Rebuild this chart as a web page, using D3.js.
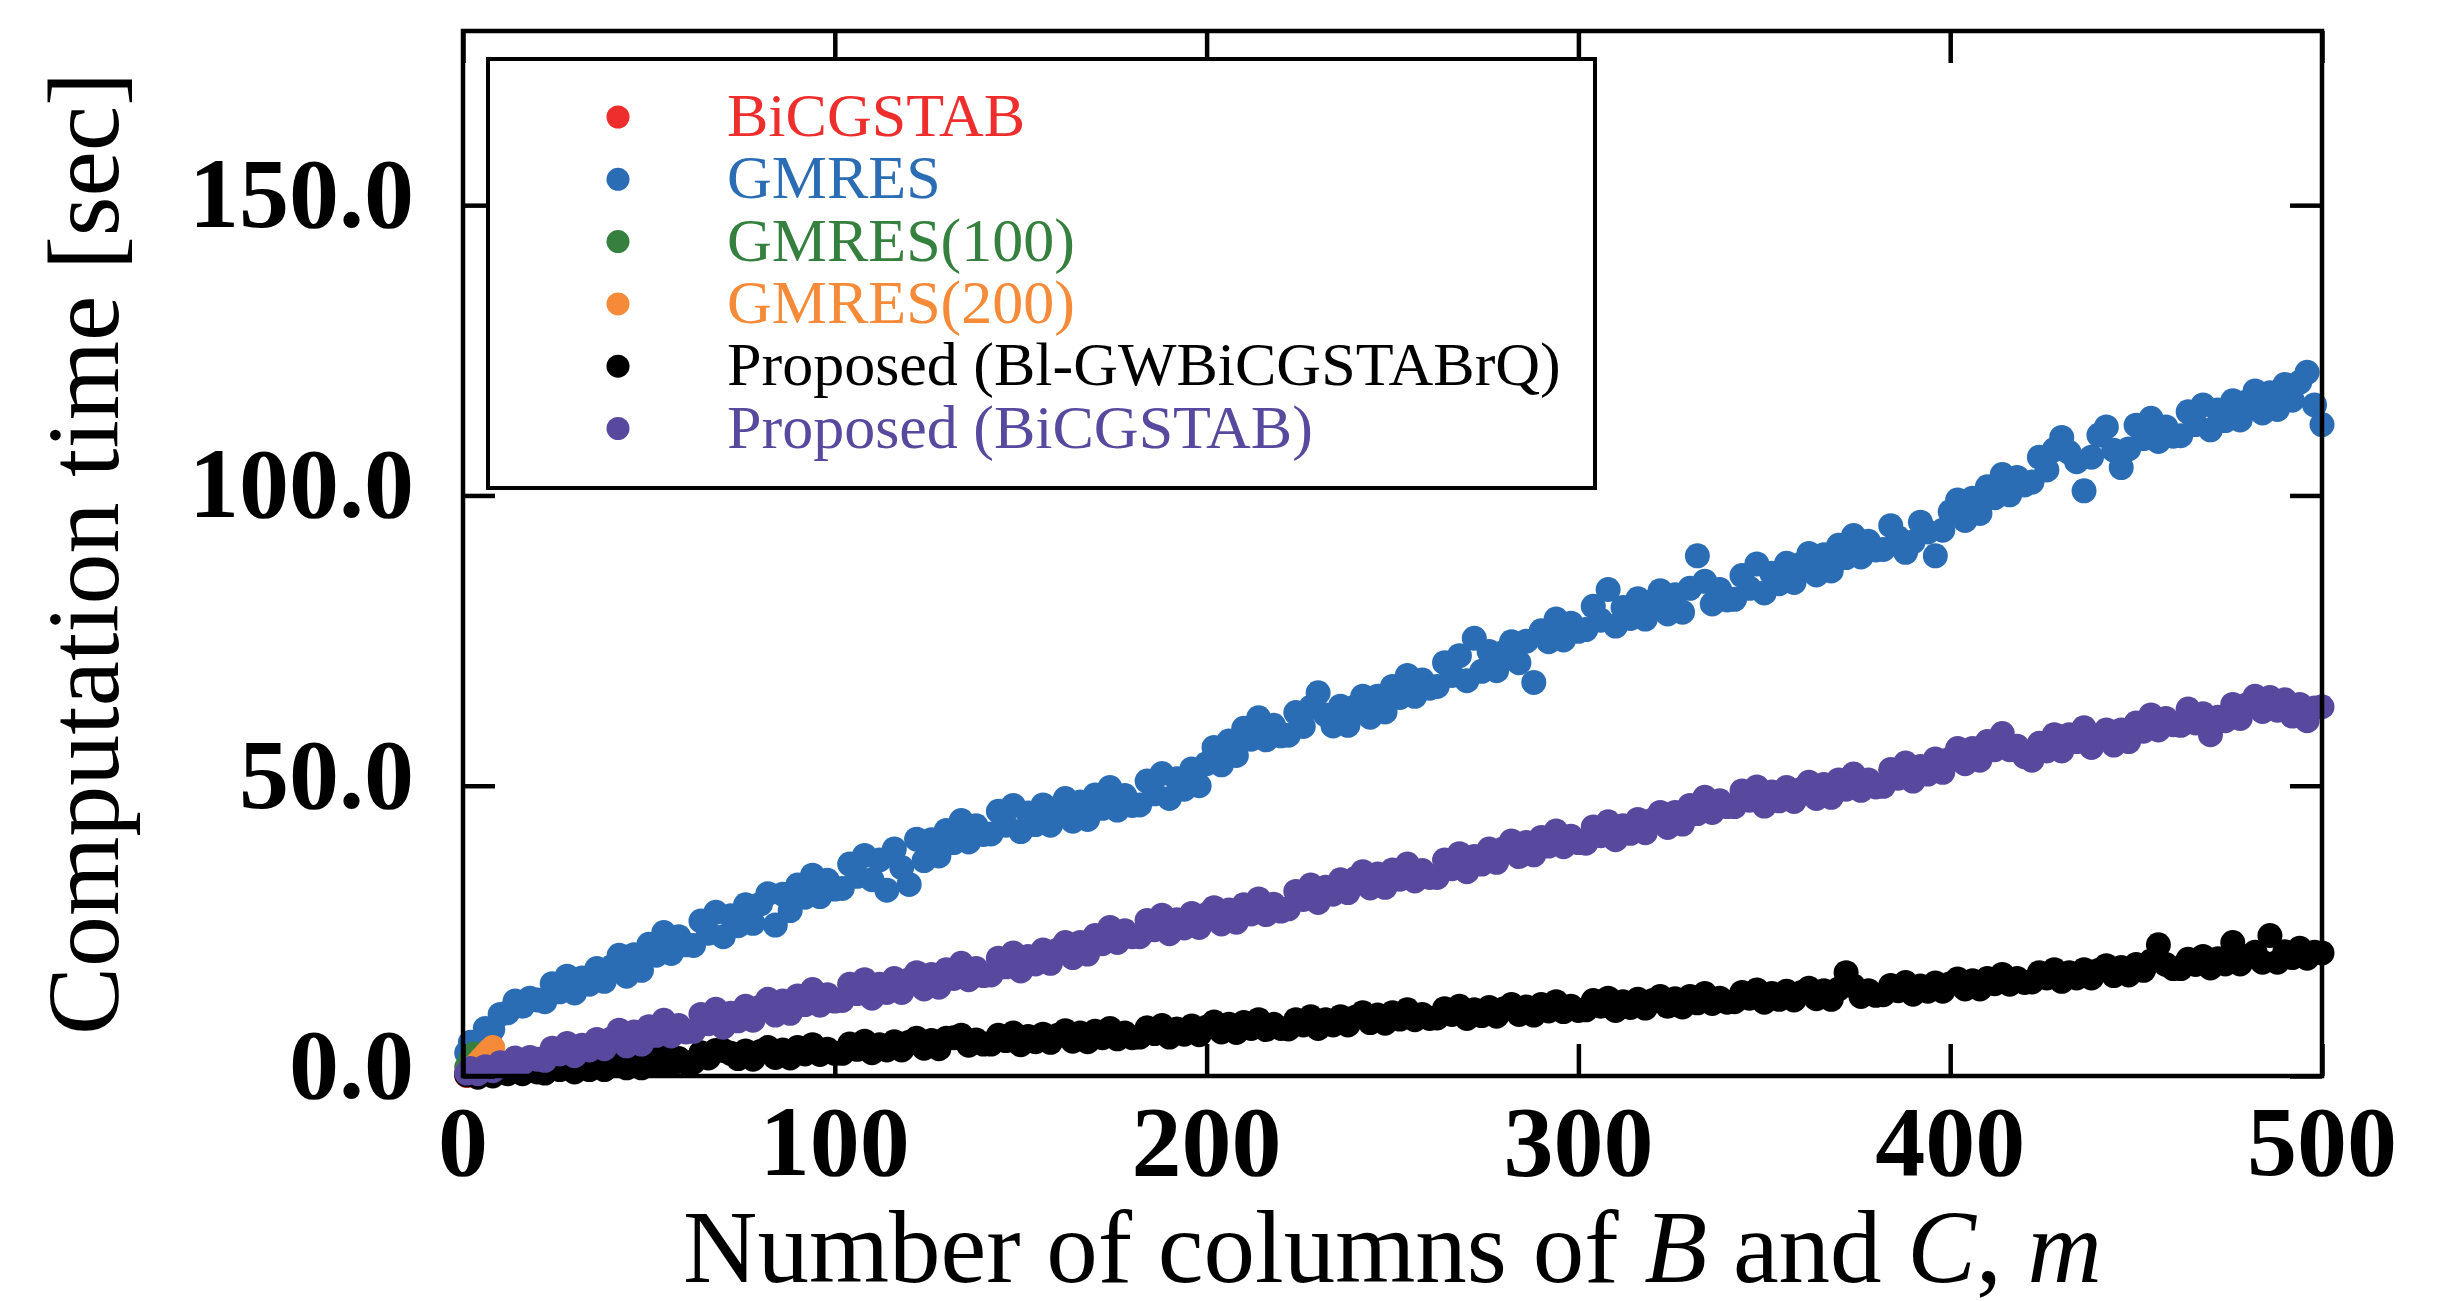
<!DOCTYPE html>
<html>
  <head>
    <meta charset="utf-8">
    <title>Computation time vs number of columns</title>
    <script src="https://cdn.jsdelivr.net/npm/d3@7"></script>
    <style>
      body { margin: 0; background: #fff; }
      svg { display: block; font-family: "Liberation Serif", "Times New Roman", serif; }
    </style>
  </head>
  <body>
    <svg id="chart" width="2452" height="1301"></svg>
    <script>
      // data (m = number of columns, values in seconds)
      mValues = [1,
        2, 4, 6, 8, 10, 12, 14, 16, 18, 20,
        22, 24, 26, 28, 30, 32, 34, 36, 38, 40,
        42, 44, 46, 48, 50, 52, 54, 56, 58, 60,
        62, 64, 66, 68, 70, 72, 74, 76, 78, 80,
        82, 84, 86, 88, 90, 92, 94, 96, 98, 100,
        102, 104, 106, 108, 110, 112, 114, 116, 118, 120,
        122, 124, 126, 128, 130, 132, 134, 136, 138, 140,
        142, 144, 146, 148, 150, 152, 154, 156, 158, 160,
        162, 164, 166, 168, 170, 172, 174, 176, 178, 180,
        182, 184, 186, 188, 190, 192, 194, 196, 198, 200,
        202, 204, 206, 208, 210, 212, 214, 216, 218, 220,
        222, 224, 226, 228, 230, 232, 234, 236, 238, 240,
        242, 244, 246, 248, 250, 252, 254, 256, 258, 260,
        262, 264, 266, 268, 270, 272, 274, 276, 278, 280,
        282, 284, 286, 288, 290, 292, 294, 296, 298, 300,
        302, 304, 306, 308, 310, 312, 314, 316, 318, 320,
        322, 324, 326, 328, 330, 332, 334, 336, 338, 340,
        342, 344, 346, 348, 350, 352, 354, 356, 358, 360,
        362, 364, 366, 368, 370, 372, 374, 376, 378, 380,
        382, 384, 386, 388, 390, 392, 394, 396, 398, 400,
        402, 404, 406, 408, 410, 412, 414, 416, 418, 420,
        422, 424, 426, 428, 430, 432, 434, 436, 438, 440,
        442, 444, 446, 448, 450, 452, 454, 456, 458, 460,
        462, 464, 466, 468, 470, 472, 474, 476, 478, 480,
        482, 484, 486, 488, 490, 492, 494, 496, 498, 500];
      gmresTimes = [4.0,
        5.8, 5.7, 8.2, 8.0, 10.6, 10.9, 12.9, 12.0, 13.4, 13.1,
        12.8, 15.9, 14.5, 17.2, 14.3, 16.9, 15.8, 18.5, 16.3, 18.8,
        20.8, 17.2, 20.9, 18.2, 22.7, 20.8, 24.7, 21.1, 24.0, 22.6,
        22.5, 26.7, 24.6, 28.2, 24.0, 27.6, 25.9, 29.5, 26.3, 29.6,
        31.4, 26.0, 31.3, 28.5, 32.9, 30.8, 34.6, 30.9, 33.7, 32.2,
        32.3, 36.5, 34.4, 38.0, 33.8, 37.2, 32.0, 39.1, 35.9, 33.0,
        40.8, 37.1, 40.7, 37.9, 42.3, 40.2, 44.0, 40.3, 43.1, 41.6,
        41.7, 45.6, 43.2, 46.6, 42.1, 45.3, 43.3, 46.7, 43.2, 46.2,
        47.8, 43.9, 47.2, 44.2, 48.4, 46.1, 49.7, 45.8, 48.3, 46.6,
        46.7, 50.8, 48.6, 52.1, 47.8, 51.2, 49.4, 52.9, 50.0, 53.8,
        56.6, 53.6, 57.7, 55.2, 59.9, 58.0, 61.7, 57.9, 60.4, 58.6,
        58.7, 62.6, 60.2, 63.5, 66.0, 62.2, 60.3, 63.7, 60.4, 63.6,
        65.4, 61.8, 65.4, 62.7, 67.1, 65.2, 69.0, 65.4, 68.2, 66.8,
        67.1, 71.2, 69.0, 72.4, 68.1, 75.4, 69.7, 73.1, 69.8, 73.0,
        74.8, 71.2, 74.9, 67.8, 76.7, 74.8, 78.7, 75.1, 78.0, 76.6,
        76.9, 80.9, 78.5, 83.8, 77.5, 80.7, 78.8, 82.2, 78.7, 81.8,
        83.6, 79.6, 82.9, 79.9, 84.0, 89.6, 85.2, 81.3, 83.8, 82.0,
        82.1, 86.2, 84.0, 88.2, 83.2, 86.6, 84.8, 88.3, 85.0, 88.2,
        90.0, 86.3, 89.8, 87.0, 91.4, 89.3, 93.1, 89.4, 92.1, 90.6,
        90.7, 94.8, 92.7, 90.2, 92.0, 95.4, 93.7, 89.6, 94.0, 97.2,
        99.2, 95.7, 99.5, 96.9, 101.5, 99.6, 103.6, 100.1, 103.1, 101.8,
        102.3, 106.6, 104.4, 107.9, 110.0, 107.4, 105.8, 100.8, 106.6, 110.4,
        111.8, 107.8, 104.8, 108.0, 112.1, 109.8, 113.3, 109.3, 111.8, 110.2,
        110.3, 114.4, 112.2, 115.6, 111.3, 114.7, 112.9, 116.3, 113.0, 116.2,
        118.0, 114.2, 117.7, 114.8, 119.1, 116.4, 119.5, 121.2, 115.6, 112.2];
      proposedBlTimes = [0.2,
        0.5, -0.2, 0.5, 0.0, 0.8, 0.4, 1.1, 0.4, 1.0, 0.7,
        0.5, 1.9, 1.1, 2.3, 0.7, 1.8, 1.1, 2.3, 1.1, 2.2,
        3.1, 1.4, 2.8, 1.4, 3.2, 2.1, 3.7, 2.0, 3.0, 2.3,
        2.4, 4.0, 3.1, 4.4, 4.4, 3.9, 3.0, 4.3, 2.9, 4.2,
        4.9, 3.2, 4.5, 3.1, 4.9, 3.8, 5.4, 3.7, 4.6, 3.9,
        3.9, 5.5, 4.6, 6.0, 4.0, 5.4, 4.5, 5.9, 4.5, 5.8,
        6.5, 4.8, 6.1, 4.7, 6.5, 6.6, 7.0, 5.3, 6.2, 5.5,
        5.5, 7.0, 6.1, 7.4, 5.4, 6.8, 5.9, 7.2, 5.8, 7.0,
        7.8, 6.0, 7.4, 5.9, 7.7, 6.6, 8.2, 6.4, 7.4, 6.6,
        6.7, 8.3, 7.3, 8.7, 6.7, 8.1, 7.2, 8.6, 7.1, 8.4,
        9.3, 7.6, 8.9, 7.5, 9.2, 8.2, 9.7, 8.0, 8.9, 8.2,
        8.1, 9.7, 8.8, 10.2, 8.2, 9.7, 8.8, 10.2, 8.8, 10.1,
        10.9, 9.2, 10.5, 9.1, 10.9, 9.8, 11.4, 9.7, 10.6, 9.9,
        10.0, 11.6, 10.6, 12.0, 9.9, 11.4, 10.4, 11.8, 10.3, 11.6,
        12.3, 10.6, 11.9, 10.5, 12.3, 11.2, 12.8, 11.1, 12.0, 11.3,
        11.4, 13.0, 12.0, 13.4, 11.3, 12.8, 11.8, 13.2, 11.7, 13.0,
        13.7, 12.0, 13.3, 11.9, 13.7, 12.6, 14.2, 12.5, 13.4, 12.7,
        12.8, 14.4, 13.4, 14.8, 12.7, 14.2, 13.2, 14.6, 13.1, 14.4,
        15.1, 13.3, 14.7, 13.2, 15.0, 17.8, 15.5, 13.7, 14.7, 13.9,
        14.0, 15.6, 14.7, 16.1, 14.1, 15.5, 14.6, 16.0, 14.6, 15.9,
        16.7, 15.0, 16.4, 15.0, 16.8, 15.9, 17.5, 15.8, 16.8, 16.1,
        16.2, 17.8, 16.9, 18.3, 16.3, 17.8, 16.9, 18.3, 16.9, 18.2,
        19.0, 17.3, 18.7, 17.4, 19.2, 18.2, 19.8, 22.6, 19.2, 18.5,
        18.5, 20.1, 19.2, 20.6, 18.6, 20.2, 19.3, 23.0, 19.3, 20.6,
        21.3, 19.6, 24.2, 19.6, 21.4, 20.4, 22.0, 20.3, 21.3, 21.2];
      proposedBicgTimes = [0.5,
        1.3, 0.4, 1.6, 0.9, 2.3, 1.9, 3.1, 2.2, 3.2, 2.9,
        2.7, 4.8, 3.8, 5.6, 3.5, 5.3, 4.5, 6.3, 4.7, 6.4,
        7.9, 5.2, 7.6, 5.5, 8.5, 7.0, 9.6, 6.9, 8.7, 7.6,
        7.7, 10.6, 9.0, 11.5, 8.4, 10.8, 9.5, 12.0, 9.6, 11.9,
        13.2, 10.5, 12.9, 10.8, 13.8, 12.3, 14.9, 12.2, 14.0, 12.9,
        13.0, 15.8, 14.2, 16.6, 13.4, 15.8, 14.4, 16.8, 14.4, 16.6,
        17.8, 15.0, 17.5, 15.3, 18.3, 16.8, 19.4, 16.6, 18.5, 17.3,
        17.4, 20.3, 18.8, 21.2, 18.1, 20.6, 19.3, 21.7, 19.4, 21.7,
        23.0, 20.4, 23.0, 21.0, 24.2, 22.8, 25.6, 23.0, 25.0, 24.0,
        24.0, 26.8, 25.2, 27.7, 24.5, 26.9, 25.5, 28.0, 25.6, 27.8,
        29.0, 26.2, 28.6, 26.5, 29.5, 27.9, 30.5, 27.8, 29.6, 28.4,
        28.8, 31.8, 30.4, 32.9, 29.9, 32.5, 31.3, 33.8, 31.6, 34.0,
        35.2, 32.4, 34.8, 32.5, 35.5, 33.9, 36.5, 33.6, 35.4, 34.2,
        34.2, 37.2, 35.7, 38.3, 35.2, 37.8, 36.5, 39.1, 36.8, 39.2,
        40.5, 37.8, 40.2, 38.1, 41.1, 39.6, 42.2, 39.5, 41.3, 40.2,
        40.1, 42.9, 41.4, 43.8, 40.7, 43.1, 41.8, 44.2, 41.9, 44.1,
        45.4, 42.8, 45.4, 43.4, 46.6, 45.2, 48.0, 45.4, 47.4, 46.4,
        46.4, 49.1, 47.5, 49.8, 46.5, 48.9, 47.4, 49.7, 47.3, 49.4,
        50.6, 47.8, 50.2, 48.0, 51.0, 49.4, 52.0, 49.2, 51.0, 49.8,
        49.9, 52.8, 51.3, 53.9, 50.8, 53.3, 52.0, 54.6, 52.3, 54.6,
        56.4, 53.8, 56.4, 54.4, 57.6, 56.2, 59.0, 56.2, 56.8, 55.0,
        54.4, 57.3, 56.0, 58.8, 56.0, 58.8, 57.6, 60.0, 56.6, 58.6,
        59.6, 57.0, 59.6, 57.6, 60.8, 59.4, 62.2, 59.6, 61.6, 60.5,
        60.4, 63.2, 60.8, 62.4, 58.8, 61.8, 61.2, 64.0, 61.6, 64.0,
        65.4, 62.8, 65.2, 63.0, 64.8, 62.0, 64.0, 61.2, 63.4, 63.6];
      // short runs near the origin
      bicgstabM = [1, 2, 3];
      bicgstabTimes = [0.1, 0.2, 0.3];
      gmres100M = [1, 2, 3];
      gmres100Times = [1.5, 2.8, 3.8];
      gmres200M = [1, 2, 3, 4, 5, 6, 7, 8];
      gmres200Times = [0.5, 1.0, 1.6, 2.2, 2.9, 3.6, 4.3, 4.9];
      // legend labels and colours
      seriesNames = ["BiCGSTAB", "GMRES", "GMRES(100)", "GMRES(200)", "Proposed (Bl-GWBiCGSTABrQ)", "Proposed (BiCGSTAB)"];
      seriesColours = ["#ee2d2d", "#2b6db4", "#35803f", "#f58b38", "#000000", "#58499f"];
      xTicks = [0, 100, 200, 300, 400, 500];
      yTicks = [0, 50, 100, 150];

      chart = d3.select("#chart");
      margin = { top: 31, right: 130, bottom: 225, left: 463 };
      width = 2452;
      height = 1301;
      tickLength = 32;
      radius = 12.5;
      legendRadius = 11.5;

      // scales
      x = d3.scaleLinear()
        .domain([0, 500])
        .range([margin.left, width - margin.right]);
      y = d3.scaleLinear()
        .domain([0, 180])
        .range([height - margin.bottom, margin.top]);

      // points, drawn in legend order
      series = [
        { m: bicgstabM, t: bicgstabTimes },
        { m: mValues, t: gmresTimes },
        { m: gmres100M, t: gmres100Times },
        { m: gmres200M, t: gmres200Times },
        { m: mValues, t: proposedBlTimes },
        { m: mValues, t: proposedBicgTimes }
      ];
      pointGroup = chart.append("g");
      series.forEach(function(s, i) {
        pointGroup.append("g")
          .attr("fill", seriesColours[i])
          .selectAll("circle")
          .data(s.m.map(function(m, j) { return { m: m, t: s.t[j] }; }))
          .join("circle")
          .attr("cx", function(d) { return x(d.m); })
          .attr("cy", function(d) { return y(d.t); })
          .attr("r", radius);
      });

      // frame with inward ticks on all four sides
      frame = chart.append("g");
      bottomAxis = d3.axisBottom(x).tickValues(xTicks).tickSize(-tickLength).tickSizeOuter(0).tickFormat("");
      topAxis = d3.axisTop(x).tickValues(xTicks).tickSize(-tickLength).tickSizeOuter(0).tickFormat("");
      leftAxis = d3.axisLeft(y).tickValues(yTicks).tickSize(-tickLength).tickSizeOuter(0).tickFormat("");
      rightAxis = d3.axisRight(y).tickValues(yTicks).tickSize(-tickLength).tickSizeOuter(0).tickFormat("");
      frame.append("g").attr("transform", "translate(0," + y(0) + ")").call(bottomAxis);
      frame.append("g").attr("transform", "translate(0," + y(180) + ")").call(topAxis);
      frame.append("g").attr("transform", "translate(" + x(0) + ",0)").call(leftAxis);
      frame.append("g").attr("transform", "translate(" + x(500) + ",0)").call(rightAxis);
      frame.selectAll("line").attr("stroke", "#000").attr("stroke-width", 4.5);
      frame.selectAll(".domain").remove();
      frame.append("rect")
        .attr("x", x(0))
        .attr("y", y(180))
        .attr("width", x(500) - x(0))
        .attr("height", y(0) - y(180))
        .attr("fill", "none")
        .attr("stroke", "#000")
        .attr("stroke-width", 4.5);

      // tick labels
      chart.append("g")
        .selectAll("text")
        .data(xTicks)
        .join("text")
        .attr("x", function(d) { return x(d); })
        .attr("y", 1175)
        .attr("text-anchor", "middle")
        .attr("font-size", 100)
        .attr("font-weight", "bold")
        .text(function(d) { return d; });
      chart.append("g")
        .selectAll("text")
        .data(yTicks)
        .join("text")
        .attr("x", 414)
        .attr("y", function(d) { return y(d) + 22; })
        .attr("text-anchor", "end")
        .attr("font-size", 100)
        .attr("font-weight", "bold")
        .text(function(d) { return d3.format(".1f")(d); });

      // axis titles
      xTitle = chart.append("text")
        .attr("x", (x(0) + x(500)) / 2)
        .attr("y", 1282)
        .attr("text-anchor", "middle")
        .attr("font-size", 103);
      xTitle.append("tspan").text("Number of columns of ");
      xTitle.append("tspan").attr("font-style", "italic").text("B");
      xTitle.append("tspan").text(" and ");
      xTitle.append("tspan").attr("font-style", "italic").text("C");
      xTitle.append("tspan").text(", ");
      xTitle.append("tspan").attr("font-style", "italic").text("m");
      chart.append("text")
        .attr("transform", "translate(118," + (y(0) + y(180)) / 2 + ") rotate(-90)")
        .attr("text-anchor", "middle")
        .attr("font-size", 102)
        .text("Computation time [sec]");

      // legend
      legend = chart.append("g");
      legend.append("rect")
        .attr("x", 488)
        .attr("y", 59)
        .attr("width", 1107)
        .attr("height", 429)
        .attr("fill", "#fff")
        .attr("stroke", "#000")
        .attr("stroke-width", 4);
      keys = legend.selectAll("g.key")
        .data(seriesNames)
        .join("g")
        .attr("class", "key")
        .attr("transform", function(d, i) { return "translate(0," + (117 + i * 62.3) + ")"; });
      keys.append("circle")
        .attr("cx", 618)
        .attr("cy", 0)
        .attr("r", legendRadius)
        .attr("fill", function(d, i) { return seriesColours[i]; });
      keys.append("text")
        .attr("x", 727)
        .attr("y", 19)
        .attr("font-size", 62)
        .attr("fill", function(d, i) { return seriesColours[i]; })
        .text(function(d) { return d; });
    </script>
  </body>
</html>
